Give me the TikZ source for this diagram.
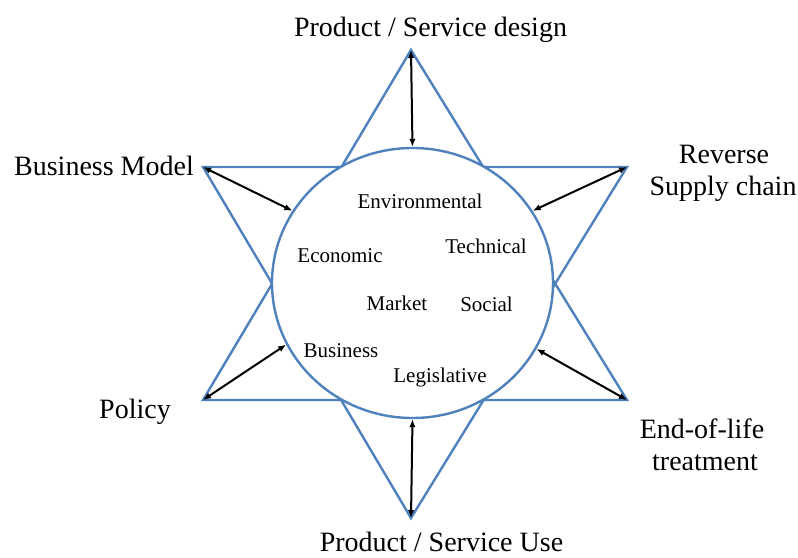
\documentclass[tikz,border=0pt]{standalone}
\usepackage{fontspec}
\setmainfont{Liberation Serif}
\usetikzlibrary{arrows.meta,shapes.geometric}
\definecolor{starblue}{HTML}{4F81BD}
\begin{document}
\begin{tikzpicture}[x=1pt,y=-1pt,
 starline/.style={draw=starblue,line width=2.4pt,line join=miter},
 link/.style={draw=black,line width=2pt,{Latex[length=8pt,width=6.5pt]}-{Latex[length=8pt,width=6.5pt]}},
 outer/.style={font=\fontsize{28}{32}\selectfont,anchor=base,inner sep=0pt},
 inner/.style={font=\fontsize{21}{25}\selectfont,anchor=base,inner sep=0pt}]
\useasboundingbox[fill=white] (0,0) rectangle (798,557);
\coordinate (T) at (411,50);
\coordinate (B) at (411,518);
\coordinate (UL) at (203,167);
\coordinate (UR) at (627,167);
\coordinate (LL) at (203,400);
\coordinate (LR) at (627,400);
\draw[starline] (T) -- (LL) -- (LR) -- cycle;
\draw[starline] (B) -- (UL) -- (UR) -- cycle;
\node[ellipse,draw=starblue,line width=2.4pt,fill=white,minimum width=281pt,minimum height=270pt,inner sep=0pt] (hub) at (412.5,283) {};
\draw[link] (T) -- (hub.90);
\draw[link] (B) -- (hub.270);
\draw[link] (UL) -- (hub.149);
\draw[link] (UR) -- (hub.31.6);
\draw[link] (LL) -- (hub.206.8);
\draw[link] (LR) -- (hub.332.3);
% outer labels
\node[outer] (design) at (430.5,36) {Product / Service design};
\node[outer] (use) at (441.5,551) {Product / Service Use};
\node[outer] (bm) at (104,175) {Business Model};
\node[outer] (policy) at (135,418) {Policy};
\node[outer] (rev1) at (724,163) {Reverse};
\node[outer] (rev2) at (723,195) {Supply chain};
\node[outer] (eol1) at (702,438) {End-of-life};
\node[outer] (eol2) at (705,470) {treatment};
% inner labels
\node[inner] (env) at (420,208) {Environmental};
\node[inner] (tech) at (486,253) {Technical};
\node[inner] (eco) at (340,262) {Economic};
\node[inner] (mkt) at (397,310) {Market};
\node[inner] (soc) at (486.5,311) {Social};
\node[inner] (bus) at (341,357) {Business};
\node[inner] (leg) at (440,382) {Legislative};
\end{tikzpicture}
\end{document}
